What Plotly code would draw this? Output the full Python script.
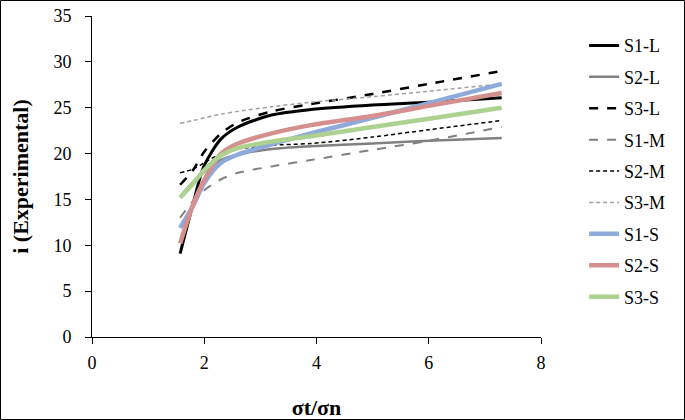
import plotly.graph_objects as go

# ratio values
x = [1.57, 1.8, 2.0, 2.3, 2.6, 3.2, 3.9, 5.0, 6.0, 7.3]

s1_l = [9.1, 14.5, 18.7, 21.6, 22.9, 24.2, 24.8, 25.3, 25.6, 26.1]
s2_l = [15.3, 16.9, 18.0, 19.3, 19.9, 20.5, 20.8, 21.1, 21.4, 21.7]
s3_l = [16.6, 18.2, 20.2, 22.2, 23.4, 24.6, 25.4, 26.5, 27.6, 29.0]
s1_m = [13.0, 14.8, 16.0, 17.2, 17.9, 18.6, 19.3, 20.4, 21.4, 22.9]
s2_m = [17.9, 18.3, 19.0, 20.0, 20.5, 20.9, 21.1, 21.8, 22.6, 23.6]
s3_m = [23.3, 23.6, 23.9, 24.3, 24.6, 25.1, 25.6, 26.2, 26.8, 27.6]
s1_s = [11.9, 14.3, 16.8, 19.0, 19.9, 21.0, 22.2, 23.9, 25.5, 27.6]
s2_s = [10.2, 14.4, 17.1, 20.0, 21.1, 22.2, 23.1, 24.1, 25.2, 26.6]
s3_s = [15.2, 16.7, 18.2, 19.8, 20.6, 21.3, 21.9, 22.9, 23.8, 25.0]

series = [
    ("S1-L", s1_l, "#000000", 3, "solid"),
    ("S2-L", s2_l, "#808080", 2.5, "solid"),
    ("S3-L", s3_l, "#000000", 2.5, "dash"),
    ("S1-M", s1_m, "#808080", 2, "dash"),
    ("S2-M", s2_m, "#000000", 1.5, "4px,3px"),
    ("S3-M", s3_m, "#a0a0a0", 1.5, "4px,3px"),
    ("S1-S", s1_s, "#8eaadb", 4.5, "solid"),
    ("S2-S", s2_s, "#d68f8f", 4.5, "solid"),
    ("S3-S", s3_s, "#add18f", 4.5, "solid"),
]

fig = go.Figure()
for name, ys, col, w, dash in series:
    fig.add_trace(go.Scatter(
        x=x, y=ys, name=name, mode="lines", legendgroup=name,
        line=dict(color=col, width=w, dash=dash, shape="spline", smoothing=0.8),
    ))

font = dict(family="Liberation Serif", size=18, color="black")
axis = dict(showline=True, linecolor="black", linewidth=1, ticks="outside",
            ticklen=6, tickcolor="black", showgrid=False, zeroline=False,
            tickfont=font, automargin=False)

# plot area is 449 x 321 px inside a 685 x 420 page
pw, ph = 449, 321

fig.update_layout(
    width=685, height=420,
    margin=dict(l=92, r=144, t=16, b=83),
    paper_bgcolor="white", plot_bgcolor="white",
    font=font,
    xaxis=dict(range=[0, 8], dtick=2, ticklabelstandoff=3,
               title=dict(text="<b>σt/σn</b>", standoff=28), **axis),
    yaxis=dict(range=[0, 35], dtick=5, ticklabelstandoff=10,
               title=dict(text="<b>i (Experimental)</b>", standoff=18), **axis),
    legend=dict(x=1.096, y=0.965, xanchor="left", yanchor="top",
                tracegroupgap=5, font=font, bgcolor="rgba(0,0,0,0)"),
    shapes=[dict(type="rect", xref="paper", yref="paper",
                 x0=(0.5 - 92) / pw, x1=(684.5 - 92) / pw,
                 y0=(337 - 419.5) / ph, y1=(337 - 0.5) / ph,
                 line=dict(color="black", width=1))],
)

# drop the page's default body margin so the figure sits at the corner
fig.write_html("out.html", config={"displayModeBar": False},
               post_script="document.body.style.margin='0';")
